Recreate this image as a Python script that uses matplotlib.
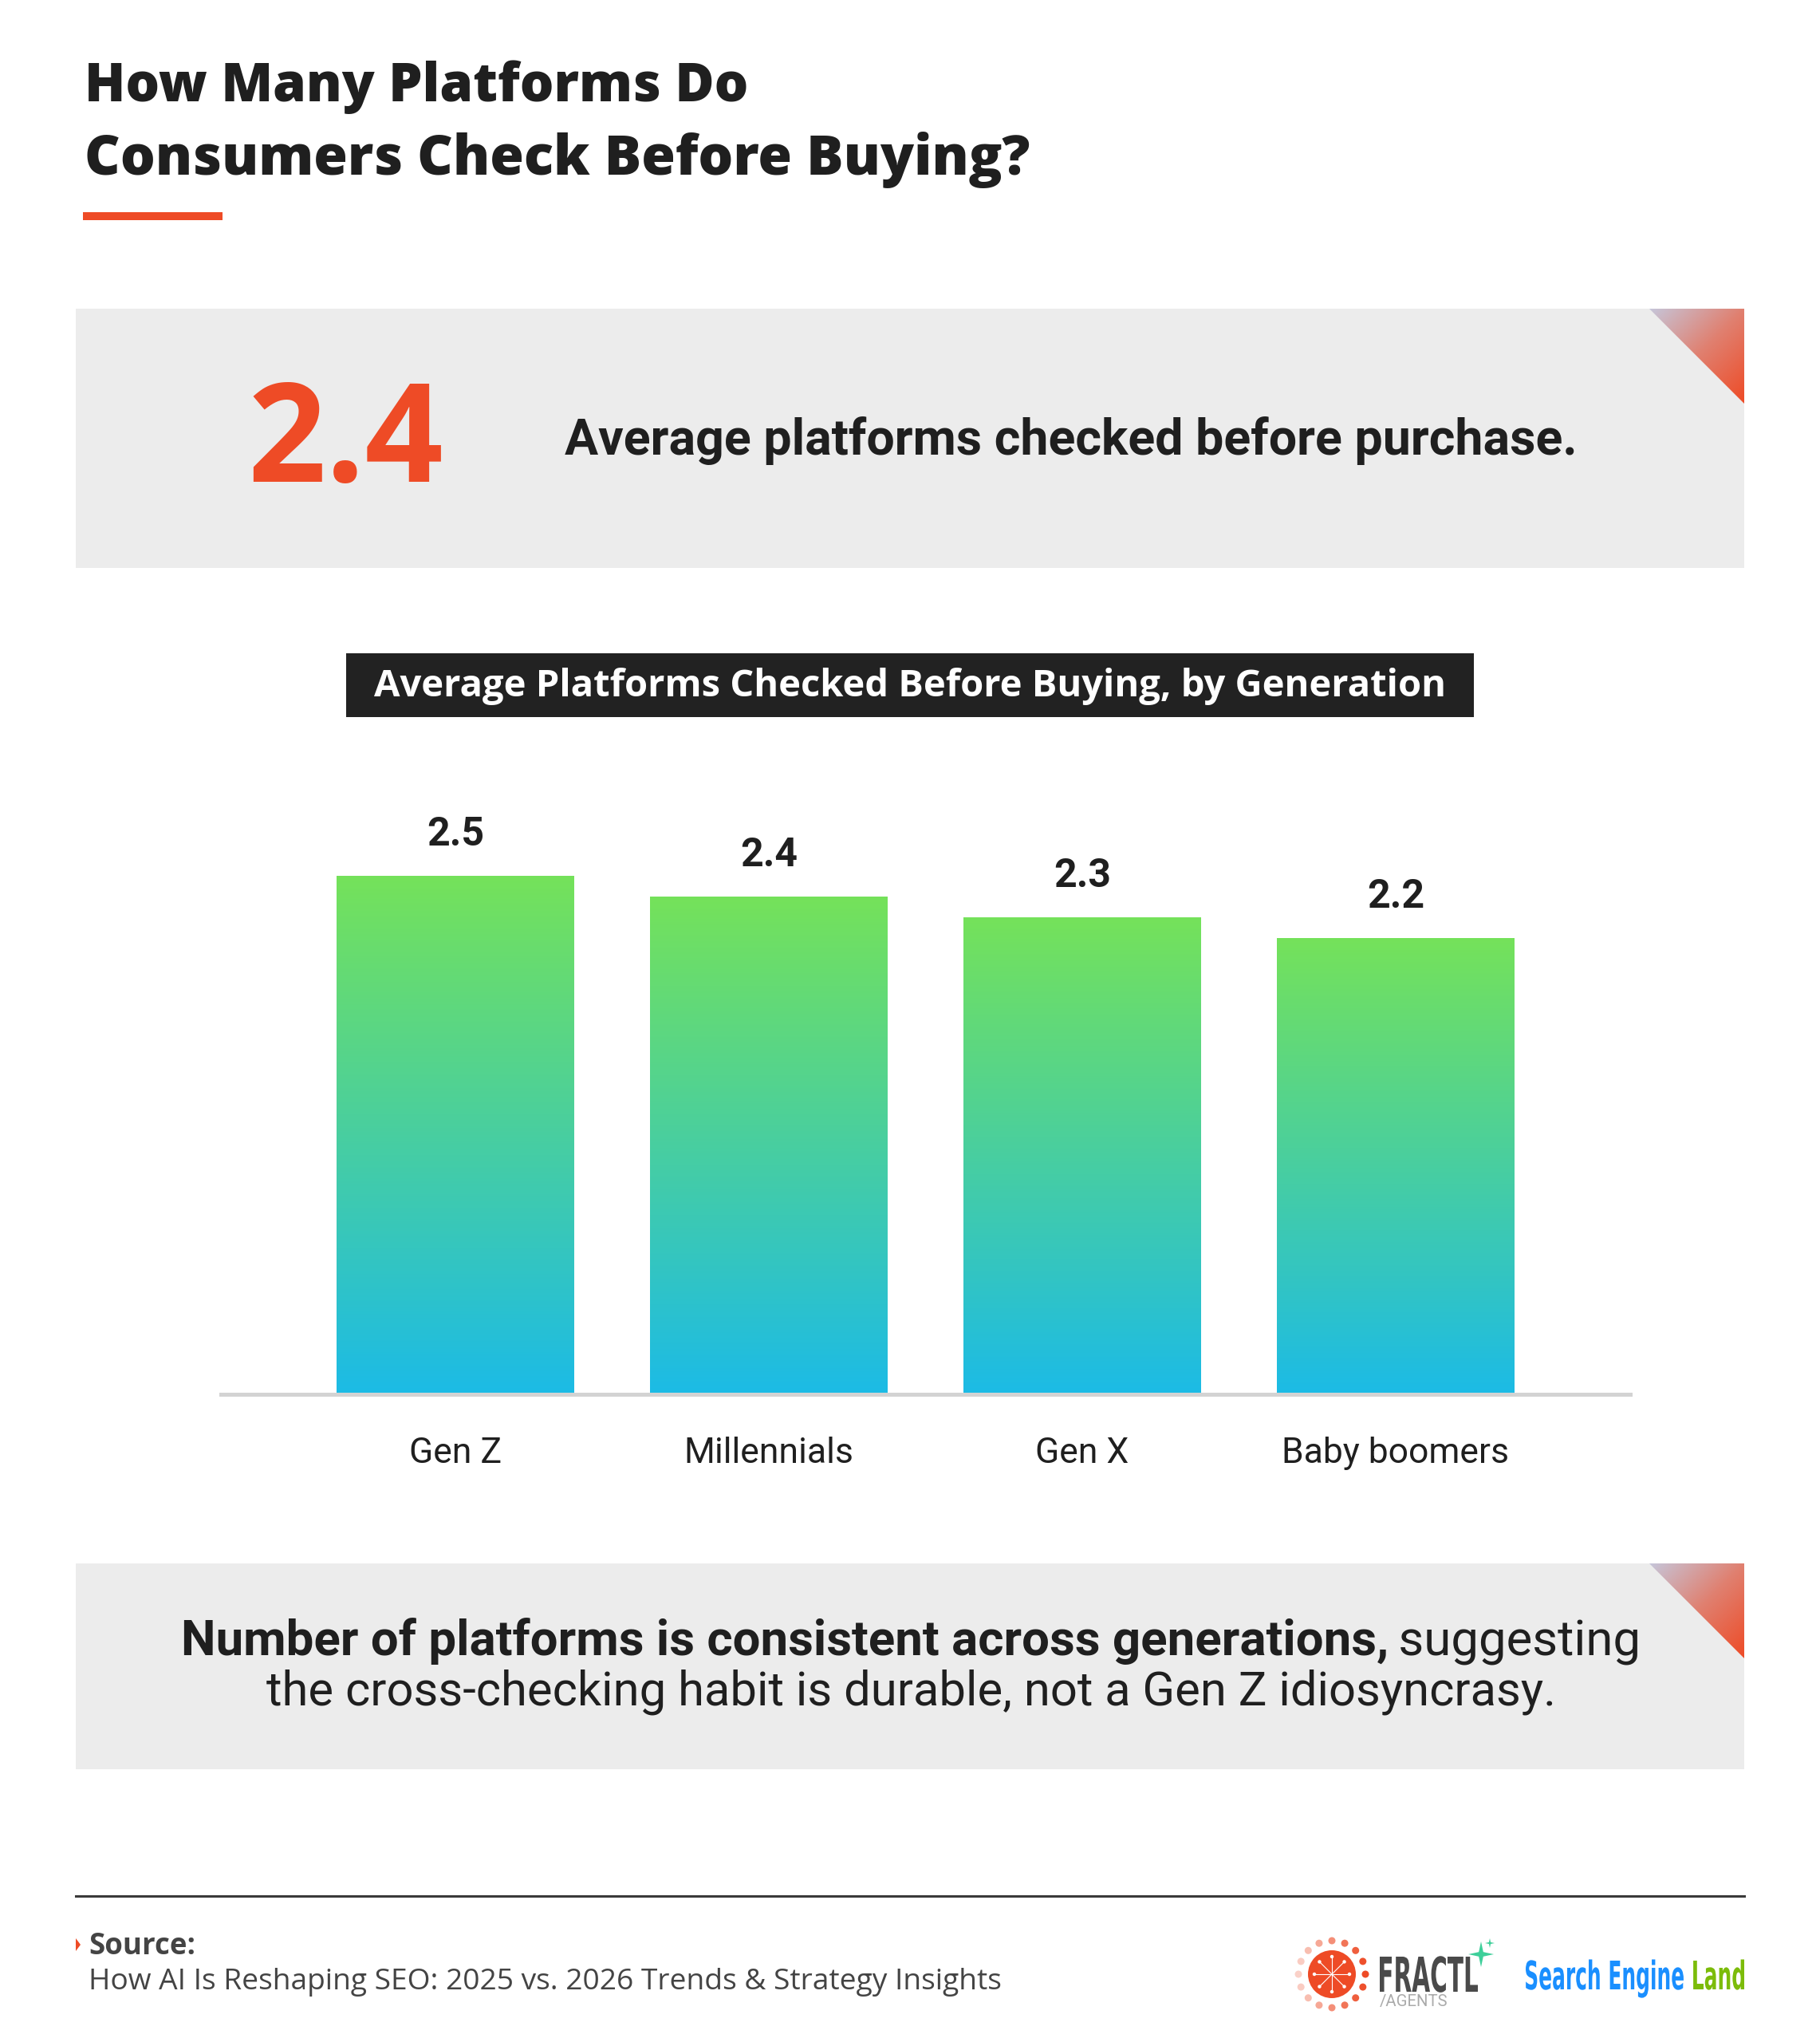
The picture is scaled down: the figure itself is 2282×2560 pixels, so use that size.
import numpy as np
import matplotlib
matplotlib.use("Agg")
import matplotlib.pyplot as plt
from matplotlib.patches import Rectangle, Polygon, Circle, PathPatch
from matplotlib.colors import LinearSegmentedColormap
from matplotlib.textpath import TextPath
from matplotlib.font_manager import FontProperties
from matplotlib.transforms import Affine2D

# data
generations = ["Gen Z", "Millennials", "Gen X", "Baby boomers"]
avg_platforms = [2.5, 2.4, 2.3, 2.2]
overall_avg = 2.4

title_lines = ["How Many Platforms Do", "Consumers Check Before Buying?"]
stat_text = "Average platforms checked before purchase."
chart_title = "Average Platforms Checked Before Buying, by Generation"
note_bold = "Number of platforms is consistent across generations,"
note_rest = " suggesting"
note_line2 = "the cross-checking habit is durable, not a Gen Z idiosyncrasy."
source_title = "Source:"
source_text = "How AI Is Reshaping SEO: 2025 vs. 2026 Trends & Strategy Insights"

ORANGE = "#ee4b26"
DARK = "#1f1f1f"
BOX = "#ececec"
HEAD = "Open Sans"
BODY = "Roboto"

W, H = 2282, 2560
fig = plt.figure(figsize=(W / 100, H / 100), dpi=100)
bg = fig.add_axes([0, 0, 1, 1])
bg.set_xlim(0, W)
bg.set_ylim(H, 0)
bg.axis("off")
renderer = fig.canvas.get_renderer()


def fit(t, width):
    w = t.get_window_extent(renderer).width
    t.set_fontsize(t.get_fontsize() * width / w)
    return t


def corner(x0, y0, size):
    tri = Polygon([[x0, y0], [x0 + size, y0], [x0 + size, y0 + size]],
                  closed=True, facecolor="none", edgecolor="none")
    bg.add_patch(tri)
    yy, xx = np.mgrid[0:1:200j, 0:1:200j]
    t = (xx + yy) / 2
    cm = LinearSegmentedColormap.from_list("c", ["#c6c6da", "#e08070", ORANGE])
    im = bg.imshow(t, extent=[x0, x0 + size, y0 + size, y0], cmap=cm,
                   aspect="auto", zorder=2)
    im.set_clip_path(tri)


def squeezed(parts, x, base, cap, width, weight="bold"):
    # condensed wordmark: text paths squeezed horizontally
    prop = FontProperties(family="DejaVu Sans", weight=weight)
    full = TextPath((0, 0), "".join(s for s, _ in parts), size=100, prop=prop)
    fx = full.get_extents()
    sx = width / fx.width
    sy = cap / 72.9
    offset = 0
    for s, c in parts:
        p = TextPath((offset, 0), s, size=100, prop=prop)
        tr = Affine2D().translate(-fx.x0, 0).scale(sx, -sy).translate(x, base)
        bg.add_patch(PathPatch(tr.transform_path(p), color=c, lw=0))
        offset += TextPath((0, 0), s + "|", size=100, prop=prop).get_extents().x1 \
            - TextPath((0, 0), "|", size=100, prop=prop).get_extents().x1


def star(cx, cy, r, color):
    ang = np.radians(np.arange(0, 360, 45))
    rad = np.where(np.arange(8) % 2 == 0, r, r * 0.25)
    bg.add_patch(Polygon(np.c_[cx + rad * np.sin(ang), cy - rad * np.cos(ang)],
                         color=color, lw=0))


# header
t = bg.text(106, 127, title_lines[0], fontsize=50, fontweight=800,
            family=HEAD, color=DARK, va="baseline")
fit(t, 834)
t = bg.text(106, 219, title_lines[1], fontsize=50, fontweight=800,
            family=HEAD, color=DARK, va="baseline")
fit(t, 1187)
bg.add_patch(Rectangle((104, 266), 175, 10, color=ORANGE, lw=0))

# stat box
bg.add_patch(Rectangle((95, 387), 2092, 325, color=BOX, lw=0))
corner(2068, 387, 119)
t = bg.text(310, 604, f"{overall_avg}", fontsize=100, fontweight="bold",
            family=HEAD, color=ORANGE, va="baseline")
fit(t, 245)
t = bg.text(708, 570, stat_text, fontsize=40, fontweight="bold",
            family=BODY, color=DARK, va="baseline")
fit(t, 1269)

# chart title bar
bg.add_patch(Rectangle((434, 819), 1414, 80, color="#222222", lw=0))
t = bg.text(1141, 873, chart_title, fontsize=30, fontweight="bold",
            family=HEAD, color="white", ha="center", va="baseline")
fit(t, 1345)

# bar chart
ax = fig.add_axes([277 / W, 1 - 1748 / H, 1767 / W, 780 / H])
ax.patch.set_alpha(0)
x = np.arange(len(generations))
bars = ax.bar(x, avg_platforms, width=0.756, color="none", zorder=2)
bar_cmap = LinearSegmentedColormap.from_list("bar", ["#1cbbe6", "#75e25a"])
grad = np.linspace(0, 1, 256).reshape(-1, 1)
for b in bars:
    x0, w, h = b.get_x(), b.get_width(), b.get_height()
    im = ax.imshow(grad, extent=[x0, x0 + w, 0, h], origin="lower",
                   cmap=bar_cmap, aspect="auto", zorder=2)
    im.set_clip_path(b)
for xi, v in zip(x, avg_platforms):
    ax.annotate(f"{v}", (xi, v), xytext=(0, 27), textcoords="offset points",
                ha="center", va="baseline", fontsize=36, fontweight="bold",
                family=BODY, color=DARK)
ax.set_xlim(-0.748, 3.748)
ax.set_ylim(0, 3)
for s in ["top", "left", "right"]:
    ax.spines[s].set_visible(False)
ax.spines["bottom"].set_color("#d3d3d3")
ax.spines["bottom"].set_linewidth(3.6)
ax.set_yticks([])
ax.set_xticks(x)
ax.set_xticklabels(generations, fontsize=32, family=BODY, color=DARK)
ax.tick_params(axis="x", length=0, pad=38)

# note box
bg.add_patch(Rectangle((95, 1960), 2092, 258, color=BOX, lw=0))
corner(2068, 1960, 119)
tb = bg.text(0, 2075, note_bold, fontsize=40, fontweight="bold",
             family=BODY, color=DARK, va="baseline")
tr = bg.text(0, 2075, note_rest, fontsize=40, family=BODY, color=DARK,
             va="baseline")
wb = tb.get_window_extent(renderer).width
wr = tr.get_window_extent(renderer).width
k = 1830 / (wb + wr)
tb.set_fontsize(40 * k)
tr.set_fontsize(40 * k)
tb.set_x(1142 - (wb + wr) * k / 2)
tr.set_x(1142 - (wb + wr) * k / 2 + wb * k)
t = bg.text(1142, 2137, note_line2, fontsize=40 * k, family=BODY, color=DARK,
            ha="center", va="baseline")
fit(t, 1618)

# footer
bg.plot([95, 2187], [2377, 2377], color="#3a3a3a", lw=2.2)
bg.add_patch(Polygon([[95, 2430], [101, 2438], [95, 2446]], color=ORANGE, lw=0))
t = bg.text(111, 2450, source_title, fontsize=24, fontweight="bold",
            family=HEAD, color="#444444", va="baseline")
fit(t, 134)
t = bg.text(111, 2494, source_text, fontsize=24, family=HEAD,
            color="#444444", va="baseline")
fit(t, 1148)

# logos
cx, cy = 1670, 2475
bg.add_patch(Circle((cx, cy), 30, color=ORANGE, lw=0))
for a in np.radians(np.arange(0, 360, 45)):
    bg.plot([cx, cx + 22 * np.cos(a)], [cy, cy + 22 * np.sin(a)],
            color="white", lw=0.8)
    bg.add_patch(Circle((cx + 22 * np.cos(a), cy + 22 * np.sin(a)), 2.2,
                        color="white", lw=0))
for a in np.radians(np.arange(0, 360, 22.5)):
    fade = 0.25 + 0.75 * (1 + np.cos(a)) / 2
    bg.add_patch(Circle((cx + 42 * np.cos(a), cy - 42 * np.sin(a)), 4.5,
                        color=ORANGE, alpha=fade, lw=0))
squeezed([("FRACTL", "#4a4a4a")], 1730, 2497, 44, 123, weight="bold")
t = bg.text(1730, 2515, "/AGENTS", fontsize=10, family=BODY,
            color="#aaaaaa", va="baseline")
fit(t, 85)
star(1857, 2450, 16, "#3ecf9a")
star(1868, 2436, 6, "#3ecf9a")
squeezed([("Search Engine ", "#1a8fff"), ("Land", "#7cbc0a")],
         1913, 2494, 36, 274)

fig.savefig("out.png", dpi=100, facecolor="white")
